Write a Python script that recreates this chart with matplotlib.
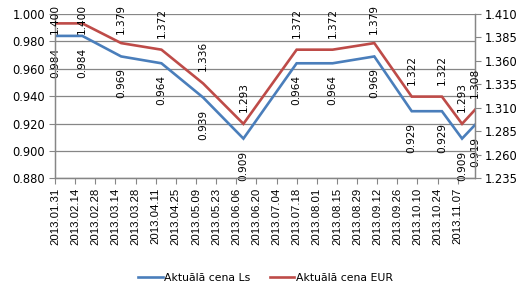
import matplotlib
matplotlib.use('Agg')
import matplotlib.pyplot as plt
import matplotlib.dates as mdates
import pandas as pd

# dates of price changes and prices
dates = ['2013-01-31', '2013-02-19', '2013-03-18', '2013-04-15', '2013-05-14',
         '2013-06-11', '2013-07-18', '2013-08-12', '2013-09-10', '2013-10-06',
         '2013-10-27', '2013-11-10', '2013-11-19']
cena_ls = [0.984, 0.984, 0.969, 0.964, 0.939, 0.909, 0.964, 0.964, 0.969,
           0.929, 0.929, 0.909, 0.919]
cena_eur = [1.400, 1.400, 1.379, 1.372, 1.336, 1.293, 1.372, 1.372, 1.379,
            1.322, 1.322, 1.293, 1.308]

x = pd.to_datetime(dates)
blue = '#4A7EBB'
red = '#BE4B48'
grey = '#868686'

plt.rcParams['font.family'] = 'DejaVu Sans'
fig = plt.figure(figsize=(5.25, 2.9), dpi=100)
ax = fig.add_axes([55/525, 1 - 178.3/290, 420/525, 164.3/290])
ax2 = ax.twinx()

l1, = ax.plot(x, cena_ls, color=blue, lw=1.9, solid_joinstyle='miter')
l2, = ax2.plot(x, cena_eur, color=red, lw=1.9, solid_joinstyle='miter')

ax.set_xlim(x[0], x[-1])
ax.set_ylim(0.88, 1.0)
ax.set_yticks([0.88 + 0.02*i for i in range(7)])
ax.yaxis.set_major_formatter(plt.FormatStrFormatter('%.3f'))
ax2.set_ylim(1.235, 1.41)
ax2.set_yticks([1.235 + 0.025*i for i in range(8)])
ax2.yaxis.set_major_formatter(plt.FormatStrFormatter('%.3f'))

ticks = pd.date_range('2013-01-31', '2013-11-07', freq='14D')
ax.set_xticks(ticks)
ax.xaxis.set_major_formatter(mdates.DateFormatter('%Y.%m.%d'))
ax.tick_params(axis='x', length=4, color=grey, pad=3)
for lab in ax.get_xticklabels():
    lab.set_rotation(90)
    lab.set_fontfamily('Liberation Sans')
    lab.set_fontsize(8.2)
ax.tick_params(axis='y', labelsize=8.3, length=4, color=grey, pad=3)
ax2.tick_params(axis='y', labelsize=8.3, length=4, color=grey, pad=3)

ax.grid(axis='y', color=grey, lw=0.9)
ax.set_axisbelow(True)
for a in (ax, ax2):
    a.spines['top'].set_visible(False)
    for s in ('left', 'right', 'bottom'):
        a.spines[s].set_color(grey)
        a.spines[s].set_linewidth(0.9)

# data labels, rotated like in Excel
for xi, v in zip(x, cena_ls):
    ax.annotate('%.3f' % v, (xi, v), xytext=(0, -12), textcoords='offset pixels',
                rotation=90, ha='center', va='top', fontsize=7.6,
                annotation_clip=False)
top_labels = []
for xi, v in zip(x, cena_eur):
    t = ax2.annotate('%.3f' % v, (xi, v), xytext=(0, 12), textcoords='offset pixels',
                     rotation=90, ha='center', va='bottom', fontsize=7.6,
                     annotation_clip=False)
    top_labels.append(t)

fig.legend([l1, l2], ['Aktuālā cena Ls', 'Aktuālā cena EUR'],
           loc='center', bbox_to_anchor=(0.505, 1 - 277.7/290), ncol=2,
           frameon=False, fontsize=7.8, handlelength=2.3, handletextpad=0.1,
           columnspacing=1.8)

# keep labels inside the picture
fig.canvas.draw()
H = fig.bbox.height
for t in top_labels:
    bb = t.get_window_extent()
    if bb.y1 > H - 4:
        t.set_position((0, 12 - (bb.y1 - (H - 4))))

fig.savefig('out.png', dpi=100)
